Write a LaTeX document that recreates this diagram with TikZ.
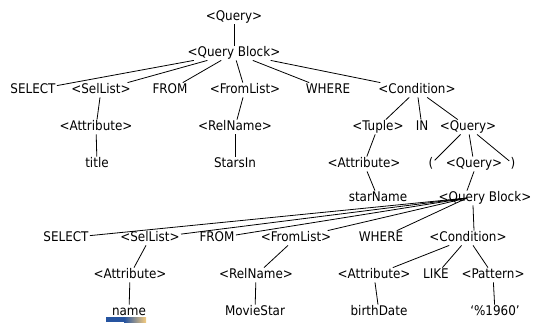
\documentclass[tikz,border=0pt]{standalone}
\usepackage{fontspec}
\setmainfont{DejaVu Sans Condensed}
\usepackage{tikz}
\usetikzlibrary{calc}

\definecolor{barblue}{RGB}{38,84,160}
\definecolor{barorange}{RGB}{240,170,40}

\begin{document}
\begin{tikzpicture}[x=1pt, y=-1pt]

    % Define styles
    \tikzstyle{sym} = [inner sep=1.2pt, text height=9.5pt, text depth=2.5pt, font=\fontsize{13.3}{16}\selectfont]
    \tikzstyle{link} = [line width=0.8pt, draw=black]

    \useasboundingbox (0,0) rectangle (535,322);

    % Nodes (outer query)
    \node (q1) [sym] at (234,17) {<Query>};
    \node (qb1) [sym] at (234,53) {<Query Block>};
    \node (sel1) [sym] at (33,90) {SELECT};
    \node (sl1) [sym] at (101,90) {<SelList>};
    \node (from1) [sym] at (170,90) {FROM};
    \node (fl1) [sym] at (245,90) {<FromList>};
    \node (wh1) [sym] at (328,90) {WHERE};
    \node (cond1) [sym] at (417,90) {<Condition>};
    \node (att1) [sym] at (96,127) {<Attribute>};
    \node (rel1) [sym] at (235,127) {<RelName>};
    \node (tup) [sym] at (378,127) {<Tuple>};
    \node (in) [sym] at (422,127) {IN};
    \node (q2) [sym] at (468,127) {<Query>};
    \node (title) [sym] at (97,164) {title};
    \node (stars) [sym] at (235,164) {StarsIn};
    \node (att2) [sym] at (364,164) {<Attribute>};
    \node (lp) [sym] at (431,164) {(};
    \node (q3) [sym] at (474,164) {<Query>};
    \node (rp) [sym] at (513,164) {)};
    \node (starname) [sym] at (378,198) {starName};

    % Nodes (inner query)
    \node (qb2) [sym] at (485,198) {<Query Block>};
    \node (sel2) [sym] at (66,238) {SELECT};
    \node (sl2) [sym] at (150,238) {<SelList>};
    \node (from2) [sym] at (217,238) {FROM};
    \node (fl2) [sym] at (296,238) {<FromList>};
    \node (wh2) [sym] at (381,238) {WHERE};
    \node (cond2) [sym] at (468,238) {<Condition>};
    \node (att3) [sym] at (130,275) {<Attribute>};
    \node (rel2) [sym] at (256,275) {<RelName>};
    \node (att4) [sym] at (374,275) {<Attribute>};
    \node (like) [sym] at (436,275) {LIKE};
    \node (pat) [sym] at (493,275) {<Pattern>};
    \node (name) [sym] at (129,312) {name};
    \node (movie) [sym] at (255,312) {MovieStar};
    \node (birth) [sym] at (379,312) {birthDate};
    \node (pct) [sym] at (495,312) {`\%1960'};

    % Lines
    \draw [link] (q1) -- (qb1);
    \foreach \c in {sel1, sl1, from1, fl1, wh1, cond1}
        \draw [link] (qb1) -- (\c);
    \draw [link] (sl1) -- (att1);
    \draw [link] (att1) -- (title);
    \draw [link] (fl1) -- (rel1);
    \draw [link] (rel1) -- (stars);
    \foreach \c in {tup, in, q2}
        \draw [link] (cond1) -- (\c);
    \draw [link] (tup) -- (att2);
    \draw [link] (att2) -- (starname);
    \foreach \c in {lp, q3, rp}
        \draw [link] (q2) -- (\c);
    \draw [link] (q3.south) -- ([xshift=-18pt]qb2.north);
    \foreach \c in {sel2, sl2, from2, fl2, wh2}
        \draw [link] ([xshift=-18pt]qb2.center) -- (\c);
    \draw [link] ([xshift=-12pt]qb2.south) -- ([xshift=6pt]cond2.north);
    \draw [link] (sl2) -- (att3);
    \draw [link] (att3) -- (name);
    \draw [link] (fl2) -- (rel2);
    \draw [link] (rel2) -- (movie);
    \foreach \c in {att4, like, pat}
        \draw [link] (cond2) -- (\c);
    \draw [link] (att4) -- (birth);
    \draw [link] (pat) -- (pct);

    % colour strip under "name"
    \fill [barblue] (106,317) rectangle (124,322);
    \shade [left color=barblue, right color=barorange!60] (124,317) rectangle (146,322);

\end{tikzpicture}
\end{document}
